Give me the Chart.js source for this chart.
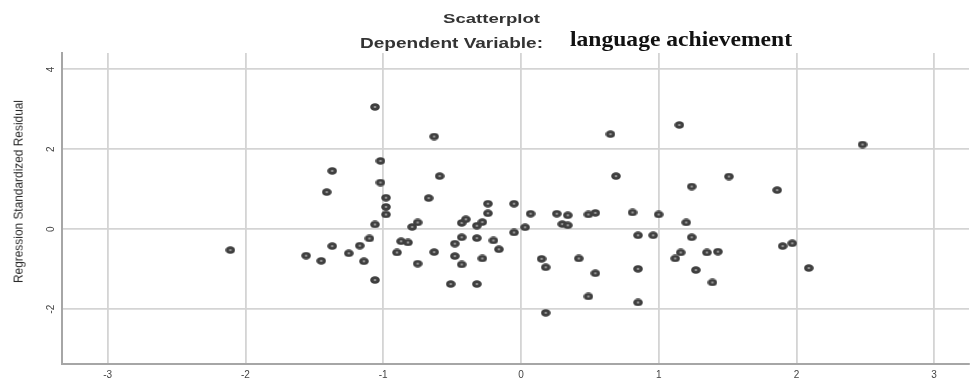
<!DOCTYPE html>
<html>
<head>
<meta charset="utf-8">
<script src="https://cdn.jsdelivr.net/npm/chart.js@4/dist/chart.umd.min.js"></script>
<style>
  html, body { margin: 0; padding: 0; background: #fff; }
  #wrap { position: relative; width: 974px; height: 381px; overflow: hidden; }
  #c { position: absolute; left: 0; top: 0; }
  .txt { position: absolute; white-space: nowrap; transform-origin: 0 0; }
  #yTitle { position: absolute; white-space: nowrap; }
</style>
</head>
<body>
<div id="wrap">
  <canvas id="c" width="974" height="381"></canvas>
  <div class="txt" id="title1">Scatterplot</div>
  <div class="txt" id="title2a">Dependent Variable:</div>
  <div class="txt" id="title2b">language achievement</div>
  <div id="yTitle">Regression Standardized Residual</div>
</div>
<script>
// Regression standardized predicted value (x) and standardized residual (y)
const predicted = [
  -2.11, -1.56, -1.45, -1.37, -1.37, -1.41, -1.25, -1.17, -1.14, -1.10,
  -1.06, -1.06, -1.06, -1.02, -1.02, -0.98, -0.98, -0.98, -0.87, -0.82,
  -0.90, -0.79, -0.75, -0.75, -0.67, -0.63, -0.59, -0.63, -0.51, -0.48,
  -0.48, -0.43, -0.40, -0.43, -0.43, -0.32, -0.28, -0.32, -0.32, -0.28,
  -0.24, -0.24, -0.20, -0.16, -0.05, -0.05, 0.03, 0.07, 0.15, 0.18,
  0.18, 0.26, 0.30, 0.34, 0.34, 0.42, 0.49, 0.54, 0.49, 0.54,
  0.65, 0.69, 0.81, 0.85, 0.85, 0.85, 0.96, 1.00, 1.12, 1.15,
  1.16, 1.20, 1.24, 1.24, 1.27, 1.35, 1.39, 1.43, 1.51, 1.86,
  1.90, 1.97, 2.09, 2.48
];
const residual = [
  -0.52, -0.66, -0.79, -0.42, 1.46, 0.93, -0.60, -0.41, -0.80, -0.23,
  -1.27, 0.12, 3.06, 1.71, 1.17, 0.79, 0.56, 0.37, -0.30, -0.33,
  -0.58, 0.06, 0.17, -0.86, 0.78, 2.32, 1.33, -0.57, -1.37, -0.36,
  -0.67, 0.16, 0.25, -0.20, -0.88, 0.09, 0.18, -0.22, -1.37, -0.73,
  0.64, 0.40, -0.28, -0.50, 0.64, -0.08, 0.05, 0.39, -0.74, -0.95,
  -2.09, 0.39, 0.13, 0.35, 0.10, -0.73, 0.37, 0.41, -1.68, -1.10,
  2.38, 1.33, 0.42, -0.15, -0.99, -1.83, -0.15, 0.37, -0.73, 2.61,
  -0.58, 0.17, 1.07, -0.20, -1.02, -0.58, -1.33, -0.56, 1.32, 0.98,
  -0.42, -0.35, -0.97, 2.12
];
const xTickValues = [-3, -2, -1, 0, 1, 2, 3];
const yTickValues = [-2, 0, 2, 4];

// Title lines (widths fitted to the slightly stretched house style)
function placeText(id, text, left, top, font, color, width) {
  const el = document.getElementById(id);
  el.textContent = text;
  el.style.left = left + 'px';
  el.style.top = top + 'px';
  el.style.font = font;
  el.style.color = color;
  const w = el.getBoundingClientRect().width;
  el.style.transform = 'scaleX(' + (width / w) + ')';
}
placeText('title1', 'Scatterplot', 443, 11.7, 'bold 13px/13px "Liberation Sans", Arial, sans-serif', '#333', 97);
placeText('title2a', 'Dependent Variable:', 360, 35.5, 'bold 14px/14px "Liberation Sans", Arial, sans-serif', '#333', 183);
placeText('title2b', 'language achievement', 570, 29.1, 'bold 21px/21px "Liberation Serif", "Times New Roman", serif', '#111', 222);

// Rotated y-axis title
(function () {
  const el = document.getElementById('yTitle');
  el.style.font = '13px/13px "Liberation Sans", Arial, sans-serif';
  el.style.color = '#2a2a2a';
  const w = el.getBoundingClientRect().width;
  const h = el.getBoundingClientRect().height;
  const s = 183 / w;
  el.style.left = (18 - w / 2) + 'px';
  el.style.top = (191.5 - h / 2) + 'px';
  el.style.transform = 'rotate(-90deg) scaleX(' + s + ')';
})();

// Marker: dark elliptical ring with a light centre
function makeMarker() {
  const m = document.createElement('canvas');
  m.width = 10; m.height = 8;
  const g = m.getContext('2d');
  g.fillStyle = '#3f3f3f';
  g.beginPath(); g.ellipse(5, 4, 4.8, 3.8, 0, 0, Math.PI * 2); g.fill();
  g.fillStyle = '#9c9c9c';
  g.beginPath(); g.ellipse(5, 4, 1.5, 1.1, 0, 0, Math.PI * 2); g.fill();
  return m;
}

const points = predicted.map((x, i) => ({ x: x, y: residual[i] }));

new Chart(document.getElementById('c'), {
  type: 'scatter',
  data: {
    datasets: [{
      data: points,
      pointStyle: makeMarker(),
      pointRadius: 4,
      pointHoverRadius: 4
    }]
  },
  options: {
    responsive: false,
    devicePixelRatio: 1,
    animation: false,
    events: [],
    layout: { padding: { top: 53, right: 0, bottom: 0, left: 0 } },
    plugins: { legend: { display: false }, tooltip: { enabled: false }, title: { display: false } },
    scales: {
      x: {
        type: 'linear',
        min: -3.332,
        max: 3.253,
        afterBuildTicks: s => { s.ticks = xTickValues.map(v => ({ value: v })); },
        afterFit: s => { s.height = 17; },
        grid: { color: '#d4d4d4', lineWidth: 1.8, drawTicks: false },
        border: { color: '#a6a6a6', width: 2 },
        ticks: {
          padding: 5,
          color: '#444',
          font: { family: '"Liberation Sans", Arial, sans-serif', size: 10 },
          maxRotation: 0,
          autoSkip: false
        }
      },
      y: {
        type: 'linear',
        min: -3.37,
        max: 4.41,
        afterBuildTicks: s => { s.ticks = yTickValues.map(v => ({ value: v })); },
        afterFit: s => { s.width = 62; },
        grid: { color: '#d4d4d4', lineWidth: 1.8, drawTicks: false },
        border: { color: '#a6a6a6', width: 2 },
        ticks: {
          padding: 6,
          color: '#444',
          minRotation: 90,
          maxRotation: 90,
          crossAlign: 'center',
          font: { family: '"Liberation Sans", Arial, sans-serif', size: 10 },
          autoSkip: false
        }
      }
    }
  }
});
</script>
</body>
</html>
